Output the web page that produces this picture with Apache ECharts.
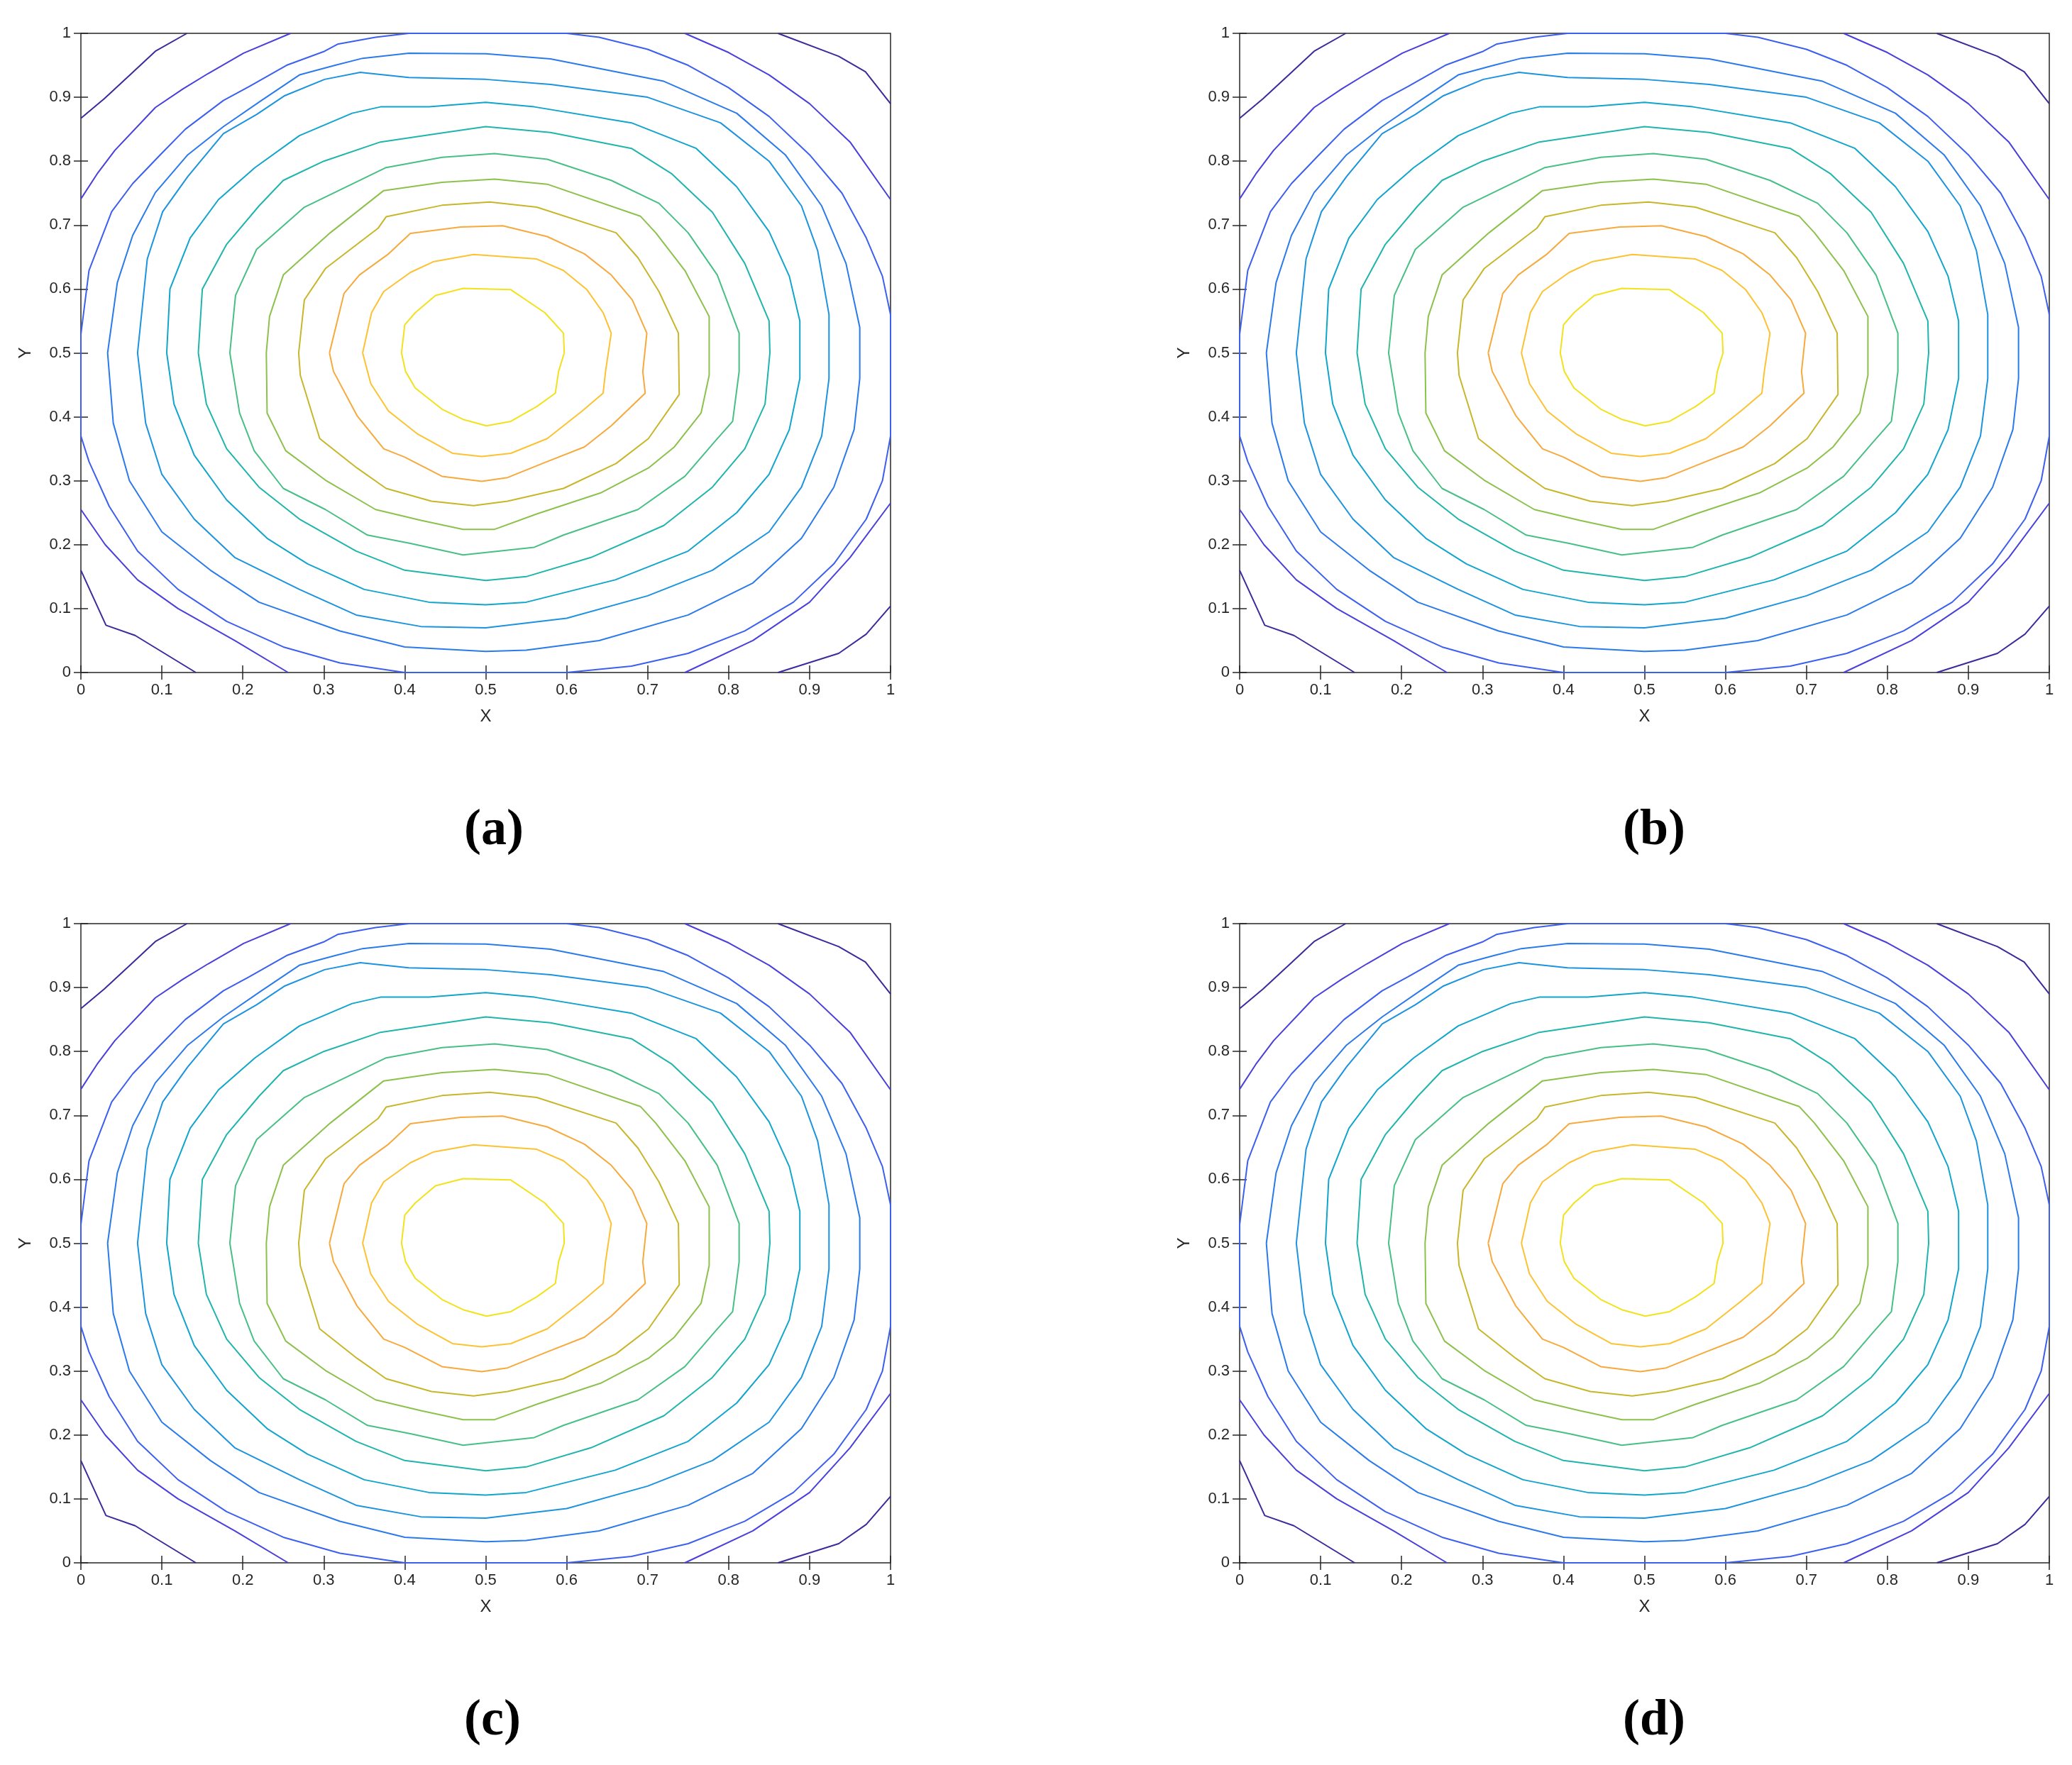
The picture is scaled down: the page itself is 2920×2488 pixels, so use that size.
<!DOCTYPE html>
<html>
<head>
<meta charset="utf-8">
<script src="https://cdn.jsdelivr.net/npm/echarts@6/dist/echarts.min.js"></script>
<style>body{margin:0;background:#fff}</style>
</head>
<body>
<div id="main" style="width:2920px;height:2488px;"></div>
<script>
// contour levels, innermost (yellow) to outermost corner arcs (dark blue)
var c1 = [[0.396,0.500],[0.400,0.544],[0.413,0.563],[0.438,0.590],[0.472,0.601],[0.531,0.599],[0.573,0.563],[0.596,0.531],[0.597,0.500],[0.590,0.471],[0.586,0.437],[0.563,0.416],[0.531,0.393],[0.501,0.386],[0.472,0.396],[0.446,0.412],[0.413,0.445],[0.401,0.471],[0.396,0.500]];
var c2 = [[0.348,0.500],[0.359,0.563],[0.374,0.596],[0.407,0.626],[0.436,0.643],[0.485,0.654],[0.563,0.647],[0.596,0.629],[0.625,0.599],[0.645,0.563],[0.655,0.531],[0.648,0.471],[0.645,0.437],[0.619,0.409],[0.576,0.366],[0.531,0.343],[0.495,0.338],[0.459,0.343],[0.416,0.373],[0.380,0.409],[0.358,0.452],[0.348,0.500]];
var c3 = [[0.307,0.500],[0.325,0.593],[0.344,0.622],[0.380,0.655],[0.407,0.687],[0.469,0.697],[0.521,0.699],[0.576,0.682],[0.622,0.655],[0.655,0.622],[0.681,0.583],[0.699,0.531],[0.694,0.471],[0.697,0.437],[0.655,0.386],[0.622,0.353],[0.576,0.330],[0.527,0.305],[0.495,0.299],[0.446,0.307],[0.400,0.337],[0.374,0.350],[0.341,0.402],[0.312,0.471],[0.307,0.500]];
var c4 = [[0.269,0.500],[0.276,0.583],[0.302,0.632],[0.367,0.695],[0.377,0.713],[0.446,0.731],[0.505,0.736],[0.563,0.728],[0.661,0.688],[0.688,0.649],[0.714,0.596],[0.738,0.531],[0.739,0.435],[0.701,0.366],[0.661,0.327],[0.596,0.288],[0.527,0.268],[0.485,0.261],[0.433,0.268],[0.377,0.288],[0.341,0.320],[0.295,0.366],[0.271,0.465],[0.269,0.500]];
var c5 = [[0.229,0.500],[0.233,0.557],[0.250,0.622],[0.308,0.688],[0.374,0.754],[0.446,0.767],[0.511,0.772],[0.576,0.764],[0.691,0.714],[0.710,0.688],[0.746,0.629],[0.776,0.557],[0.776,0.465],[0.766,0.406],[0.733,0.353],[0.701,0.320],[0.642,0.281],[0.563,0.248],[0.511,0.224],[0.472,0.224],[0.420,0.238],[0.364,0.255],[0.302,0.301],[0.253,0.347],[0.230,0.406],[0.229,0.500]];
var c6 = [[0.184,0.500],[0.191,0.590],[0.217,0.662],[0.276,0.728],[0.377,0.790],[0.446,0.806],[0.511,0.812],[0.576,0.803],[0.655,0.770],[0.714,0.734],[0.750,0.688],[0.786,0.622],[0.813,0.531],[0.813,0.471],[0.805,0.393],[0.782,0.360],[0.746,0.307],[0.688,0.255],[0.596,0.215],[0.560,0.196],[0.472,0.184],[0.407,0.202],[0.354,0.215],[0.302,0.255],[0.250,0.288],[0.214,0.347],[0.196,0.406],[0.184,0.500]];
var c7 = [[0.145,0.500],[0.150,0.600],[0.180,0.670],[0.220,0.730],[0.250,0.770],[0.300,0.800],[0.370,0.830],[0.450,0.845],[0.500,0.854],[0.580,0.845],[0.680,0.820],[0.730,0.780],[0.780,0.720],[0.820,0.640],[0.850,0.550],[0.851,0.500],[0.845,0.420],[0.820,0.350],[0.780,0.290],[0.720,0.230],[0.630,0.180],[0.550,0.150],[0.500,0.144],[0.400,0.160],[0.340,0.190],[0.270,0.240],[0.220,0.290],[0.180,0.350],[0.155,0.420],[0.145,0.500]];
var c8 = [[0.106,0.500],[0.110,0.600],[0.135,0.680],[0.170,0.740],[0.215,0.790],[0.270,0.840],[0.335,0.875],[0.370,0.885],[0.430,0.885],[0.500,0.892],[0.560,0.885],[0.680,0.860],[0.760,0.820],[0.810,0.760],[0.850,0.690],[0.875,0.620],[0.888,0.550],[0.888,0.460],[0.875,0.380],[0.850,0.310],[0.810,0.250],[0.750,0.190],[0.660,0.145],[0.550,0.110],[0.500,0.106],[0.430,0.110],[0.350,0.130],[0.280,0.170],[0.230,0.210],[0.180,0.270],[0.140,0.340],[0.115,0.420],[0.106,0.500]];
var c9 = [[0.070,0.500],[0.082,0.647],[0.101,0.721],[0.132,0.776],[0.176,0.843],[0.217,0.873],[0.251,0.902],[0.301,0.928],[0.345,0.939],[0.405,0.931],[0.500,0.928],[0.580,0.920],[0.700,0.900],[0.790,0.860],[0.850,0.800],[0.890,0.730],[0.910,0.660],[0.924,0.560],[0.924,0.460],[0.915,0.370],[0.890,0.290],[0.850,0.220],[0.780,0.160],[0.700,0.120],[0.600,0.085],[0.500,0.070],[0.420,0.072],[0.340,0.090],[0.270,0.130],[0.190,0.180],[0.140,0.240],[0.100,0.310],[0.080,0.390],[0.070,0.500]];
var c10 = [[0.033,0.500],[0.045,0.610],[0.064,0.684],[0.092,0.751],[0.132,0.810],[0.176,0.854],[0.223,0.895],[0.270,0.935],[0.314,0.950],[0.348,0.961],[0.405,0.969],[0.500,0.968],[0.580,0.960],[0.720,0.925],[0.810,0.875],[0.870,0.810],[0.915,0.730],[0.945,0.640],[0.962,0.540],[0.962,0.460],[0.955,0.380],[0.930,0.290],[0.890,0.210],[0.830,0.140],[0.750,0.090],[0.640,0.050],[0.550,0.035],[0.500,0.033],[0.400,0.040],[0.320,0.065],[0.220,0.110],[0.160,0.160],[0.100,0.220],[0.060,0.300],[0.040,0.390],[0.033,0.500]];
var c11 = [[0.000,0.529],[0.010,0.629],[0.020,0.662],[0.038,0.721],[0.064,0.765],[0.098,0.810],[0.129,0.850],[0.176,0.895],[0.208,0.917],[0.254,0.950],[0.301,0.972],[0.317,0.983],[0.364,0.994],[0.405,1.000],[0.600,1.000],[0.640,0.994],[0.700,0.975],[0.750,0.950],[0.800,0.915],[0.850,0.870],[0.900,0.810],[0.940,0.750],[0.970,0.680],[0.990,0.620],[1.000,0.560],[1.000,0.370],[0.990,0.300],[0.970,0.240],[0.930,0.170],[0.880,0.110],[0.820,0.065],[0.750,0.030],[0.680,0.010],[0.600,0.000],[0.400,0.000],[0.320,0.015],[0.250,0.040],[0.180,0.080],[0.120,0.130],[0.070,0.190],[0.035,0.260],[0.010,0.330],[0.000,0.370],[0.000,0.529]];
var c12tl = [[0.000,0.741],[0.020,0.780],[0.042,0.817],[0.092,0.884],[0.126,0.913],[0.157,0.937],[0.201,0.969],[0.259,1.000]];
var c12tr = [[0.746,1.000],[0.800,0.970],[0.850,0.935],[0.900,0.890],[0.950,0.830],[1.000,0.740]];
var c12bl = [[0.000,0.255],[0.030,0.200],[0.070,0.145],[0.120,0.100],[0.190,0.050],[0.256,0.000]];
var c12br = [[0.746,0.000],[0.830,0.050],[0.900,0.110],[0.950,0.180],[1.000,0.265]];
var c13tl = [[0.000,0.867],[0.029,0.898],[0.064,0.939],[0.092,0.972],[0.131,1.000]];
var c13tr = [[0.861,1.000],[0.936,0.964],[0.969,0.940],[1.000,0.890]];
var c13bl = [[0.000,0.160],[0.031,0.074],[0.067,0.058],[0.142,0.000]];
var c13br = [[0.861,0.000],[0.936,0.030],[0.970,0.060],[1.000,0.104]];

var levels = [c1, c2, c3, c4, c5, c6, c7, c8, c9, c10, c11, c12tl, c12tr, c12bl, c12br, c13tl, c13tr, c13bl, c13br];
var levelColors = ['#f2e21c','#fcc232','#f6a93c','#c8b62a','#8cc14b','#48bf86','#1fb5ac','#11a5cc','#1b93de','#2b7aeb','#3c5ff0',
  '#4a3fdc','#4a3fdc','#4a3fdc','#4a3fdc','#3c2a9c','#3c2a9c','#3c2a9c','#3c2a9c'];
var captions = ['(a)', '(b)', '(c)', '(d)'];

var chart = echarts.init(document.getElementById('main'));
var lefts = [114, 1747], tops = [47, 1302];
var grids = [], xAxes = [], yAxes = [], series = [], graphics = [];
for (var p = 0; p < 4; p++) {
  var gl = lefts[p % 2], gt = tops[Math.floor(p / 2)];
  grids.push({left: gl, top: gt, width: 1141, height: 901, show: true, borderColor: '#262626', borderWidth: 1.5, backgroundColor: '#fff'});
  var lab = {fontSize: 22, color: '#262626', fontFamily: 'Liberation Sans', margin: 14, formatter: function (v) { return String(+v.toFixed(1)); }};
  var common = {type: 'value', min: 0, max: 1, interval: 0.1, gridIndex: p, splitLine: {show: false},
    axisLine: {show: false}, axisTick: {inside: true, length: 10, lineStyle: {color: '#262626', width: 1.5}}};
  xAxes.push(Object.assign({}, common, {position: 'bottom', axisLabel: lab, name: 'X', nameLocation: 'middle', nameGap: 50,
    nameTextStyle: {fontSize: 24, color: '#262626', fontFamily: 'Liberation Sans'}}));
  xAxes.push(Object.assign({}, common, {position: 'top', axisLabel: {show: false}}));
  yAxes.push(Object.assign({}, common, {position: 'left', axisLabel: lab, name: 'Y', nameLocation: 'middle', nameGap: 66,
    nameTextStyle: {fontSize: 24, color: '#262626', fontFamily: 'Liberation Sans'}}));
  yAxes.push(Object.assign({}, common, {position: 'right', axisLabel: {show: false}}));
  for (var k = 0; k < levels.length; k++) {
    series.push({type: 'line', xAxisIndex: p * 2, yAxisIndex: p * 2, data: levels[k], symbol: 'none', clip: true,
      silent: true, animation: false, lineStyle: {color: levelColors[k], width: 2}});
  }
  graphics.push({type: 'text', left: gl + 540, top: gt + 1088,
    style: {text: captions[p], font: 'bold 72px "Liberation Serif"', fill: '#000'}});
}

chart.setOption({
  animation: false,
  grid: grids,
  xAxis: xAxes,
  yAxis: yAxes,
  series: series,
  graphic: graphics
});
</script>
</body>
</html>
